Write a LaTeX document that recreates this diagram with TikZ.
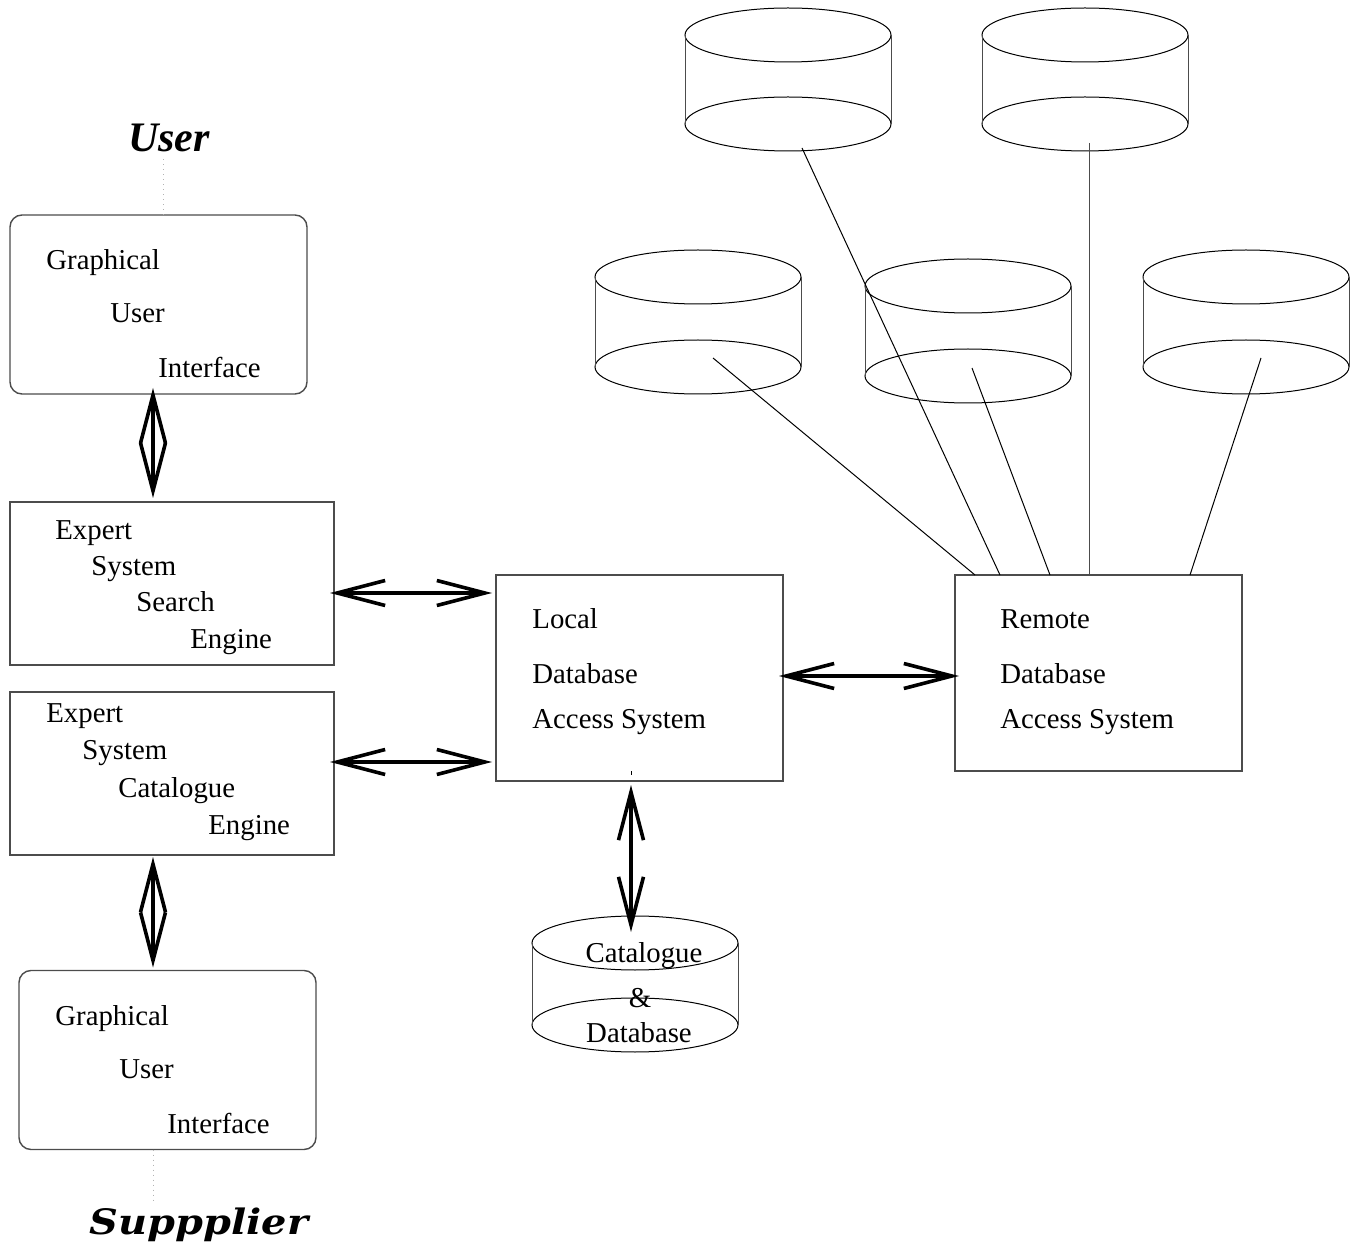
\documentclass[tikz,border=0pt]{standalone}
\usepackage{fontspec}
\setmainfont{Liberation Serif}
\newfontfamily\slabfont{DejaVu Serif}
\usetikzlibrary{arrows.meta,calc}
\begin{document}
\begin{tikzpicture}[x=0.5pt,y=-0.5pt,font=\fontsize{14.4}{17}\selectfont,
  box/.style={draw=black!70,line width=0.7pt,inner sep=0pt,outer sep=0pt},
  guibox/.style={box,rounded corners=6pt,minimum width=148.5pt,minimum height=89.5pt},
  esbox/.style={box,minimum width=162pt,minimum height=81.5pt},
  dbbox/.style={box,minimum width=143.5pt},
  txt/.style={anchor=base west,inner sep=0pt},
  ctxt/.style={anchor=base,inner sep=0pt},
  dbl/.style={line width=1.8pt,{Straight Barb[length=24pt,width=12.5pt]}-{Straight Barb[length=24pt,width=12.5pt]}},
  feed/.style={line width=0.5pt},
  dots/.style={draw=black!30,dotted,line width=0.5pt}]
\useasboundingbox (0,0) rectangle (1356,1251);
\begin{scope}
\node[font=\fontsize{21}{24}\bfseries\itshape\selectfont,anchor=base] (user) at (169,152) {User};
\node[guibox] (gui1) at (158.5,304.5) {};
\node[txt] (gui1a) at (46,270) {Graphical};
\node[txt] (gui1b) at (110,323) {User};
\node[txt] (gui1c) at (158,378) {Interface};
\node[esbox] (ess) at (172,583.5) {};
\node[txt] (essa) at (55,540) {Expert};
\node[txt] (essb) at (91,576) {System};
\node[txt] (essc) at (136,612) {Search};
\node[txt] (essd) at (190,648) {Engine};
\node[esbox] (esc) at (172,773.5) {};
\node[txt] (esca) at (46,723) {Expert};
\node[txt] (escb) at (82,760) {System};
\node[txt] (escc) at (118,797) {Catalogue};
\node[txt] (escd) at (208,834) {Engine};
\node[guibox] (gui2) at (167.5,1060) {};
\node[txt] (gui2a) at (55,1025) {Graphical};
\node[txt] (gui2b) at (119,1078) {User};
\node[txt] (gui2c) at (167,1133) {Interface};
\node[font=\fontsize{17.5}{20}\slabfont\bfseries\itshape\selectfont,anchor=base] (supplier) at (199,1234) {\scalebox{1.14}[1]{Suppplier}};
\end{scope}
\begin{scope}
\node[dbbox,minimum height=103pt] (local) at (639.5,678) {};
\node[txt] (locala) at (532,629) {Local};
\node[txt] (localb) at (532,683) {Database};
\node[txt] (localc) at (532,728) {Access System};
\node[dbbox,minimum height=98pt] (remote) at (1098.5,673) {};
\node[txt] (remotea) at (1000,629) {Remote};
\node[txt] (remoteb) at (1000,683) {Database};
\node[txt] (remotec) at (1000,728) {Access System};
\draw[feed] (631,771) -- (631,775);
\end{scope}
\foreach \cx/\ct/\cb in {635/943/1025,788/35/124,1085/35/124,698/277/367,968/286/376,1246/277/367} {
  \draw[feed] (\cx,\ct) ellipse [x radius=51.5pt,y radius=13.5pt];
  \draw[feed] (\cx,\cb) ellipse [x radius=51.5pt,y radius=13.5pt];
  \draw[feed,black!70] ({\cx-103},\ct) -- ({\cx-103},\cb) ({\cx+103},\ct) -- ({\cx+103},\cb);
}
\node[ctxt] (cata) at (644,962) {Catalogue};
\node[ctxt] (catb) at (640,1007) {\&};
\node[ctxt] (catc) at (639,1042) {Database};
\coordinate (cattop) at (631,932);
\coordinate (r1) at (713,358);
\coordinate (r2) at (802,148);
\coordinate (r3) at (972,368);
\coordinate (r4) at (1089,143);
\coordinate (r5) at (1261,358);
\draw[feed] (r1) -- ($(remote.north west)+(20,0)$);
\draw[feed] (r2) -- ($(remote.north west)+(45,0)$);
\draw[feed] (r3) -- ($(remote.north west)+(95,0)$);
\draw[feed,black!70] (r4) -- ($(remote.north west)+(134,0)$);
\draw[feed] (r5) -- ($(remote.north west)+(235,0)$);
\draw[dots] ([xshift=-3pt]user.south) -- ([xshift=-3pt]user.south |- gui1.north);
\draw[dots] ([xshift=-7.25pt]gui2.south) -- ([xshift=-7.25pt]gui2.south |- supplier.north);
\draw[dbl] ([xshift=-2.75pt,yshift=3pt]gui1.south) -- ([xshift=-2.75pt,yshift=2pt]gui1.south |- ess.north);
\draw[dbl] ([xshift=-9.5pt,yshift=-1pt]esc.south) -- ([xshift=-9.5pt,yshift=1.5pt]esc.south |- gui2.north);
\draw[dbl] ([xshift=-2pt,yshift=-4.75pt]ess.east) -- ([xshift=-2pt,yshift=-4.75pt]ess.east -| local.west);
\draw[dbl] ([xshift=-2pt,yshift=5.75pt]esc.east) -- ([xshift=-2pt,yshift=5.75pt]esc.east -| local.west);
\draw[dbl] ([xshift=-2pt,yshift=1pt]local.east) -- ([xshift=2pt,yshift=1pt]local.east -| remote.west);
\draw[dbl] ([xshift=-4.25pt,yshift=-2pt]local.south) -- (cattop);
\end{tikzpicture}
\end{document}
